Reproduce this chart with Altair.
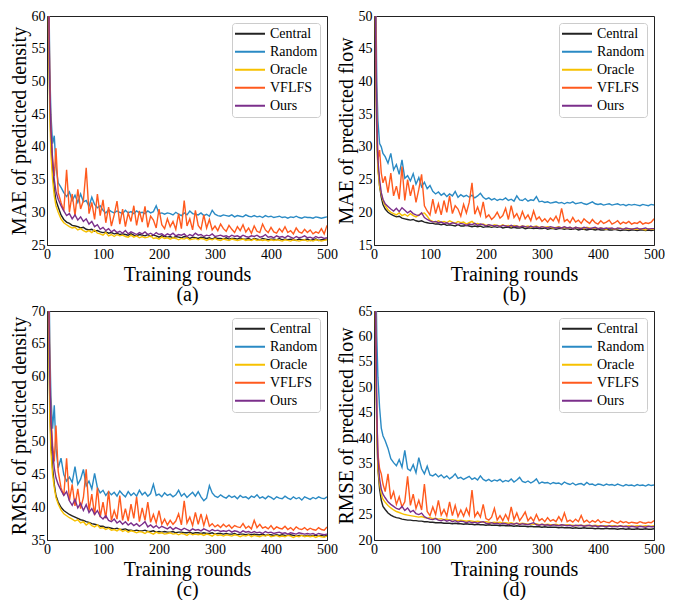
import altair as alt
import pandas as pd

ROUNDS = [1, 3, 5, 7, 10, 13, 16] + list(range(20, 501, 5))
SERIES = ["Central", "Random", "Oracle", "VFLFS", "Ours"]
COLORS = ["#222222", "#2a8ac4", "#f7c100", "#ff5a1e", "#7b2f8b"]
X_TICKS = [0, 100, 200, 300, 400, 500]

# ---------------- (a) MAE of predicted density ----------------
A_CENTRAL = [78, 58, 47, 41, 36.5, 33.5, 31.8,
    30.8, 29.6, 28.9, 28.5, 28.3, 28.0, 27.9, 27.8, 27.6, 27.7,
    27.4, 27.3, 27.4, 27.1, 27.2, 27.0, 26.9, 27.0, 26.8, 26.9,
    26.7, 26.8, 26.6, 26.7, 26.6, 26.5, 26.7, 26.5, 26.4, 26.6,
    26.5, 26.4, 26.6, 26.3, 26.5, 26.4, 26.2, 26.4, 26.3, 26.2,
    26.3, 26.1, 26.3, 26.2, 26.1, 26.3, 26.2, 26.0, 26.2, 26.1,
    26.0, 26.2, 26.1, 26.0, 26.1, 25.9, 26.1, 26.0, 26.0, 25.9,
    26.1, 25.9, 26.0, 26.0, 25.9, 26.1, 25.9, 25.9, 26.0, 25.8,
    26.0, 25.9, 25.8, 26.0, 25.9, 25.8, 25.9, 25.9, 25.8, 26.0,
    25.8, 25.9, 25.8, 25.9, 25.8, 25.7, 25.9, 25.8, 25.8, 25.9,
    25.7, 25.8, 25.9, 25.7, 25.8, 25.8, 25.9]
A_ORACLE = [76, 56, 45, 39, 35.0, 32.5, 31.0,
    30.0, 29.0, 28.4, 28.1, 27.8, 27.6, 27.7, 27.3, 27.5, 27.2,
    27.0, 27.2, 26.9, 27.3, 26.8, 26.7, 26.5, 26.9, 26.4, 26.6,
    26.3, 26.6, 26.4, 26.5, 26.3, 26.2, 26.5, 26.2, 26.4, 26.1,
    26.3, 26.1, 26.2, 26.4, 26.0, 26.1, 25.9, 26.2, 26.0, 26.1,
    25.9, 26.1, 26.0, 25.8, 26.0, 25.9, 26.1, 25.8, 25.9, 26.0,
    25.8, 26.0, 25.9, 25.7, 25.9, 25.8, 26.0, 25.8, 25.7, 25.9,
    25.8, 25.7, 25.9, 25.8, 25.7, 25.8, 25.9, 25.7, 25.8, 25.7,
    25.9, 25.7, 25.8, 25.7, 25.8, 25.6, 25.8, 25.7, 25.8, 25.7,
    25.6, 25.8, 25.7, 25.6, 25.8, 25.7, 25.6, 25.7, 25.8, 25.6,
    25.7, 25.6, 25.8, 25.7, 25.6, 25.7, 25.8]
A_OURS = [80, 62, 49, 42.5, 38, 35, 33.2,
    32.0, 31.0, 30.2, 29.5, 29.8, 29.0, 29.6, 28.8, 29.3, 28.6,
    29.0, 28.2, 28.6, 27.8, 28.1, 27.4, 27.7, 27.2, 27.5, 27.0,
    27.3, 26.9, 27.1, 26.8, 27.2, 26.7, 27.0, 26.8, 26.6, 26.9,
    26.7, 27.0, 26.6, 26.8, 26.5, 26.9, 26.6, 26.7, 26.4, 26.7,
    26.5, 26.8, 26.4, 26.6, 26.5, 26.7, 26.3, 26.6, 26.4, 26.8,
    26.5, 26.6, 26.3, 26.5, 26.4, 26.7, 26.3, 26.4, 26.5, 26.3,
    26.4, 26.2, 26.5, 26.3, 26.4, 26.2, 26.5, 26.3, 26.2, 26.4,
    26.3, 26.5, 26.2, 26.3, 26.6, 26.2, 26.3, 26.1, 26.4, 26.2,
    26.3, 26.1, 26.4, 26.2, 26.0, 26.3, 26.1, 26.2, 26.4, 26.1,
    26.2, 26.0, 26.3, 26.1, 26.2, 26.0, 26.1]
A_RANDOM = [85, 66, 52, 45, 40.5, 41.7, 37.0,
    34.5, 33.8, 33.0, 32.4, 33.1, 31.8, 32.6, 31.5, 32.8, 31.6,
    31.8, 30.9, 32.3, 31.2, 30.7, 31.0, 30.3, 29.9, 30.4, 30.1,
    29.9, 30.2, 30.0, 29.8, 30.3, 29.9, 30.1, 29.8, 30.2, 29.9,
    30.0, 29.8, 30.2, 29.9, 30.1, 31.0, 29.8, 29.9, 29.7, 29.9,
    29.8, 29.6, 30.0, 29.7, 29.5, 29.9, 29.6, 30.2, 29.8, 29.7,
    29.6, 29.9, 29.5, 29.7, 29.4, 30.3, 29.7, 29.5, 29.4, 29.6,
    29.5, 29.4, 29.6, 29.3, 29.5, 29.4, 29.3, 29.6, 29.4, 29.3,
    29.5, 29.3, 29.4, 29.2, 29.5, 29.3, 29.4, 29.2, 29.3, 29.4,
    29.2, 29.3, 29.1, 29.3, 29.2, 29.4, 29.2, 29.1, 29.3, 29.2,
    29.2, 29.1, 29.3, 29.2, 29.1, 29.2, 29.3]
A_VFLFS = [82, 64, 50, 43, 38.0, 35.5, 39.8,
    33.0, 31.5, 30.2, 36.5, 30.0, 32.8, 29.5, 33.5, 30.5, 31.8,
    36.8, 29.8, 31.5, 28.9, 32.8, 29.5, 31.9, 28.4, 30.8, 27.9,
    29.6, 31.7, 28.2, 30.5, 27.8, 29.9, 28.6, 31.0, 28.0, 30.2,
    28.5, 30.9, 27.7, 29.4, 28.8, 27.6, 30.5, 28.1, 27.5, 29.0,
    27.8, 28.6, 27.4, 29.8, 27.5, 31.8, 27.9, 29.0, 27.3, 30.3,
    28.0, 27.4, 29.6, 27.6, 28.9, 27.3, 27.9, 27.2, 28.2, 27.5,
    27.1, 28.0, 27.4, 26.9, 27.8, 27.2, 28.1, 27.0, 27.6, 26.8,
    27.9, 27.1, 26.9, 28.2, 27.3, 26.9, 27.7, 27.0, 26.8, 27.5,
    27.0, 27.8, 26.9, 27.2, 26.7, 27.6, 27.0, 26.8, 27.4, 26.9,
    27.3, 26.7, 27.0, 26.8, 27.5, 26.7, 28.0]

# ---------------- (b) MAE of predicted flow ----------------
B_CENTRAL = [70, 45, 32, 27, 24.0, 22.3, 21.2,
    20.5, 20.0, 19.7, 19.5, 19.3, 19.4, 19.1, 19.0, 18.9, 18.8,
    18.9, 18.7, 18.6, 18.7, 18.5, 18.4, 18.3, 18.3, 18.2, 18.2,
    18.1, 18.2, 18.0, 18.1, 18.0, 17.9, 18.1, 17.9, 17.9, 18.0,
    17.9, 17.8, 17.9, 17.8, 17.9, 17.7, 17.8, 17.8, 17.7, 17.8,
    17.7, 17.8, 17.6, 17.7, 17.7, 17.6, 17.7, 17.6, 17.6, 17.7,
    17.5, 17.6, 17.6, 17.5, 17.6, 17.5, 17.5, 17.6, 17.4, 17.5,
    17.5, 17.4, 17.5, 17.5, 17.4, 17.5, 17.4, 17.4, 17.5, 17.3,
    17.4, 17.4, 17.3, 17.4, 17.4, 17.3, 17.4, 17.3, 17.3, 17.4,
    17.3, 17.3, 17.4, 17.3, 17.2, 17.3, 17.3, 17.2, 17.3, 17.3,
    17.2, 17.3, 17.3, 17.2, 17.3, 17.2, 17.3]
B_ORACLE = [68, 43, 31, 26.5, 24.0, 22.8, 21.8,
    21.0, 20.4, 20.0, 19.8, 19.6, 19.9, 19.5, 19.7, 19.4, 19.8,
    19.5, 19.3, 19.6, 19.8, 19.9, 19.4, 18.8, 18.6, 18.5, 18.7,
    18.5, 18.6, 18.4, 18.7, 18.5, 18.3, 18.6, 18.4, 18.5, 18.2,
    18.4, 18.6, 18.2, 18.3, 18.1, 18.2, 18.0, 18.1, 17.9, 18.1,
    18.0, 17.9, 18.1, 17.9, 18.0, 17.8, 18.0, 17.9, 17.8, 17.9,
    17.8, 17.9, 17.7, 17.8, 17.9, 17.7, 17.8, 17.7, 17.8, 17.7,
    17.6, 17.7, 17.8, 17.6, 17.7, 17.6, 17.7, 17.5, 17.7, 17.6,
    17.6, 17.5, 17.7, 17.6, 17.5, 17.6, 17.5, 17.6, 17.5, 17.4,
    17.6, 17.5, 17.4, 17.5, 17.6, 17.4, 17.5, 17.4, 17.5, 17.4,
    17.4, 17.5, 17.4, 17.3, 17.5, 17.4, 17.4]
B_OURS = [72, 47, 33, 28, 25.0, 23.0, 22.0,
    21.3, 20.9, 20.5, 20.2, 20.6, 20.1, 20.7, 20.3, 19.9, 20.2,
    19.8, 19.6, 19.5, 19.9, 19.2, 18.9, 18.7, 18.5, 18.6, 18.4,
    18.5, 18.3, 18.4, 18.2, 18.4, 18.3, 18.1, 18.3, 18.2, 18.0,
    18.2, 18.1, 18.3, 18.0, 18.2, 18.1, 17.9, 18.1, 18.0, 17.9,
    18.0, 17.8, 18.0, 17.9, 17.8, 18.0, 17.8, 17.9, 17.7, 17.9,
    17.8, 17.7, 17.9, 17.7, 17.8, 17.6, 17.8, 17.7, 17.6, 17.8,
    17.7, 17.6, 17.7, 17.6, 17.8, 17.6, 17.7, 17.5, 17.7, 17.6,
    17.5, 17.7, 17.6, 17.5, 17.6, 17.7, 17.5, 17.6, 17.5, 17.6,
    17.5, 17.6, 17.4, 17.6, 17.5, 17.4, 17.6, 17.5, 17.4, 17.5,
    17.6, 17.4, 17.5, 17.6, 17.4, 17.5, 17.5]
B_RANDOM = [90, 55, 40, 34, 30.5, 30.0, 29.0,
    28.5, 27.5, 29.0, 26.5, 27.3, 25.8, 28.0, 25.2, 25.6, 24.8,
    25.9, 24.3, 25.3, 23.9, 24.6, 23.6, 24.1, 23.2, 22.8, 23.1,
    22.6, 22.9, 22.4, 22.8, 22.5, 23.2, 22.3, 22.7, 22.4, 22.6,
    22.3, 22.6, 22.2, 22.5, 22.9, 22.3, 22.0, 22.2, 21.9, 22.1,
    21.8, 22.0, 21.9, 22.2, 21.8, 22.0, 21.7, 22.5, 21.9, 21.8,
    22.1, 21.7, 21.9, 21.8, 22.4, 21.6, 21.7, 21.5, 21.6, 21.4,
    21.5, 21.6, 21.4, 21.5, 21.3, 21.5, 21.4, 21.6, 21.3, 21.4,
    21.5, 21.3, 21.2, 21.4, 21.6, 21.3, 21.2, 21.3, 21.1, 21.2,
    21.3, 21.1, 21.2, 21.3, 21.1, 21.2, 21.0, 21.2, 21.1, 21.2,
    21.1, 21.0, 21.2, 21.1, 21.0, 21.2, 21.1]
B_VFLFS = [75, 50, 35, 28, 29.5, 26.0, 24.5,
    25.5, 23.0, 26.0, 22.5, 24.0, 22.0, 27.0, 21.8, 25.0, 22.5,
    24.2, 21.5, 23.5, 25.8, 21.0, 20.2, 19.6, 22.0, 19.8, 21.3,
    19.6, 21.8, 20.0, 22.5, 19.8, 21.0, 20.5, 19.4, 21.2, 19.9,
    21.5, 24.5, 19.7, 20.8, 19.5, 21.6, 19.2, 19.6, 18.9, 19.3,
    20.0, 19.1, 19.5, 20.6, 18.9, 21.0, 19.2, 19.8, 18.8, 20.1,
    19.0, 19.6, 18.7, 20.2, 18.9, 19.3, 18.6, 19.0, 18.5, 19.1,
    18.7, 19.4, 18.5, 20.6, 18.6, 18.9, 18.4, 19.2, 18.5, 18.8,
    18.3, 19.0, 18.6, 18.3, 18.9, 18.4, 18.2, 18.7, 18.3, 18.5,
    18.8, 18.2, 18.4, 18.7, 18.2, 18.5, 18.3, 18.6, 18.2, 18.4,
    18.3, 18.6, 18.2, 18.4, 18.3, 18.5, 19.0]

# ---------------- (c) RMSE of predicted density ----------------
C_CENTRAL = [95, 68, 56, 50, 46.0, 43.5, 41.8,
    40.8, 40.0, 39.5, 39.2, 38.9, 38.7, 38.5, 38.3, 38.1, 38.0,
    37.8, 37.7, 37.5, 37.4, 37.3, 37.1, 37.1, 36.9, 36.9, 36.8,
    36.7, 36.8, 36.6, 36.6, 36.7, 36.5, 36.5, 36.4, 36.5, 36.4,
    36.4, 36.5, 36.3, 36.3, 36.4, 36.2, 36.3, 36.2, 36.3, 36.2,
    36.2, 36.3, 36.1, 36.2, 36.2, 36.1, 36.1, 36.2, 36.0, 36.1,
    36.1, 36.0, 36.1, 36.0, 36.0, 36.1, 35.9, 36.0, 36.0, 35.9,
    36.0, 35.9, 35.9, 36.0, 35.8, 35.9, 35.9, 35.8, 35.9, 35.8,
    35.9, 35.8, 35.8, 35.9, 35.7, 35.8, 35.8, 35.7, 35.8, 35.7,
    35.8, 35.7, 35.7, 35.8, 35.7, 35.6, 35.7, 35.7, 35.6, 35.7,
    35.6, 35.7, 35.7, 35.6, 35.7, 35.6, 35.7]
C_ORACLE = [92, 66, 54, 48.5, 45.0, 43.0, 41.5,
    40.5, 39.6, 39.0, 38.7, 38.4, 38.2, 37.9, 38.1, 37.6, 37.8,
    37.3, 37.6, 37.2, 37.0, 37.3, 36.8, 36.9, 36.6, 36.8, 36.5,
    36.6, 36.4, 36.7, 36.3, 36.5, 36.2, 36.4, 36.3, 36.1, 36.3,
    36.2, 36.0, 36.3, 36.1, 35.9, 36.2, 36.0, 36.1, 35.9, 36.0,
    36.1, 35.9, 36.0, 35.8, 36.0, 35.9, 35.7, 36.0, 35.8, 35.9,
    35.8, 35.9, 35.7, 35.9, 35.8, 35.6, 35.9, 35.7, 35.8, 35.6,
    35.8, 35.7, 35.6, 35.8, 35.7, 35.5, 35.7, 35.6, 35.8, 35.5,
    35.7, 35.6, 35.5, 35.7, 35.6, 35.8, 35.5, 35.6, 35.7, 35.5,
    35.6, 35.5, 35.7, 35.6, 35.4, 35.6, 35.5, 35.7, 35.5, 35.6,
    35.5, 35.6, 35.4, 35.6, 35.5, 35.4, 35.6]
C_OURS = [100, 72, 60, 53, 48.5, 46.0, 44.5,
    43.5, 42.6, 41.8, 42.4, 41.0, 40.3, 41.2, 39.9, 40.6, 39.5,
    40.4, 39.2, 39.8, 38.9, 39.5, 38.6, 38.2, 38.7, 38.0, 37.8,
    38.2, 37.6, 37.9, 37.4, 37.8, 37.3, 37.6, 37.2, 37.5, 37.1,
    37.4, 37.8, 37.0, 37.3, 36.9, 37.2, 36.8, 37.1, 36.9, 36.7,
    37.0, 36.6, 36.9, 36.7, 36.5, 36.8, 36.6, 36.4, 36.7, 36.5,
    36.6, 36.4, 36.7, 36.5, 36.3, 36.6, 36.4, 36.5, 36.3, 36.4,
    36.3, 36.5, 36.2, 36.4, 36.3, 36.1, 36.4, 36.2, 36.3, 36.1,
    36.3, 36.1, 36.2, 36.0, 36.3, 36.1, 36.2, 36.0, 36.1, 36.2,
    36.0, 36.1, 35.9, 36.1, 36.0, 35.9, 36.1, 36.0, 35.9, 36.0,
    35.9, 36.0, 35.8, 36.0, 35.9, 35.8, 35.9]
C_RANDOM = [110, 80, 65, 57, 52.0, 55.6, 49.0,
    46.0, 47.5, 45.0, 44.0, 44.6, 43.8, 46.2, 43.5, 44.3, 45.8,
    43.3, 44.0, 42.8, 45.2, 43.0, 42.2, 42.6, 41.8, 42.4, 41.9,
    42.3, 41.7, 42.5, 42.0, 41.6, 42.4, 41.8, 42.2, 41.7, 42.6,
    41.9, 42.3, 41.7, 42.1, 43.5, 41.8, 42.0, 41.6, 42.2, 41.8,
    42.0, 41.6, 41.9, 42.6, 41.7, 42.1, 41.5, 41.9, 42.3, 41.7,
    42.4, 41.6, 41.0, 41.4, 43.3, 42.2, 41.7, 41.5, 41.9, 41.6,
    41.4, 41.8, 41.5, 41.7, 41.3, 41.8, 41.5, 41.6, 41.3, 41.7,
    41.5, 41.9, 41.4, 41.6, 41.3, 41.7, 41.5, 41.2, 41.6, 41.4,
    41.3, 41.7, 41.4, 41.2, 41.6, 41.3, 41.5, 41.1, 41.6, 41.4,
    41.2, 41.5, 41.3, 41.6, 41.4, 41.3, 41.6]
C_VFLFS = [105, 76, 62, 54, 49.5, 47.0, 52.5,
    45.5, 43.0, 41.8, 47.5, 41.0, 43.5, 40.2, 42.8, 39.8, 41.5,
    45.8, 39.5, 42.0, 38.8, 43.0, 38.5, 40.8, 38.3, 42.5, 38.0,
    39.5, 38.2, 41.8, 38.0, 39.8, 37.9, 40.5, 38.3, 41.6, 37.8,
    39.9, 38.0, 40.8, 37.7, 38.9, 37.6, 39.5, 37.4, 38.2, 37.3,
    38.0, 37.4, 37.9, 39.0, 37.3, 41.0, 37.6, 38.5, 37.2, 39.2,
    37.4, 39.0, 37.2, 38.7, 37.1, 37.5, 37.0, 37.3, 36.9, 37.4,
    37.0, 37.3, 36.8, 37.2, 37.0, 36.9, 37.5, 36.8, 37.1, 36.7,
    38.0, 36.9, 37.4, 36.8, 37.0, 36.7, 37.2, 36.6, 37.0, 36.8,
    36.7, 37.1, 36.6, 36.9, 36.5, 37.0, 36.7, 36.6, 36.9, 36.5,
    36.8, 36.6, 36.5, 36.9, 36.6, 36.5, 37.0]

# ---------------- (d) RMSE of predicted flow ----------------
D_CENTRAL = [90, 60, 42, 34, 30.0, 27.8, 26.6,
    26.0, 25.3, 24.9, 24.6, 24.4, 24.3, 24.1, 24.0, 23.9, 23.9,
    23.8, 23.8, 23.7, 23.7, 23.6, 23.6, 23.5, 23.5, 23.4, 23.4,
    23.4, 23.3, 23.3, 23.3, 23.2, 23.3, 23.2, 23.2, 23.1, 23.2,
    23.1, 23.1, 23.0, 23.1, 23.0, 23.0, 22.9, 23.0, 22.9, 22.9,
    22.9, 22.8, 22.9, 22.8, 22.8, 22.8, 22.7, 22.8, 22.7, 22.7,
    22.7, 22.6, 22.7, 22.6, 22.6, 22.6, 22.5, 22.6, 22.5, 22.5,
    22.5, 22.5, 22.4, 22.5, 22.4, 22.4, 22.4, 22.3, 22.4, 22.3,
    22.3, 22.4, 22.3, 22.3, 22.3, 22.2, 22.3, 22.2, 22.2, 22.3,
    22.2, 22.2, 22.2, 22.1, 22.2, 22.2, 22.1, 22.2, 22.1, 22.1,
    22.2, 22.1, 22.1, 22.2, 22.1, 22.1, 22.2]
D_ORACLE = [88, 58, 41, 34, 31.0, 29.0, 28.0,
    27.4, 26.8, 26.3, 25.9, 25.6, 25.4, 25.2, 25.0, 24.9, 24.8,
    24.7, 24.6, 24.5, 24.6, 24.4, 24.3, 24.4, 24.2, 24.3, 24.1,
    24.2, 24.0, 24.1, 23.9, 24.0, 23.9, 23.8, 23.9, 23.8, 23.7,
    23.8, 23.7, 23.6, 23.7, 23.6, 23.5, 23.6, 23.5, 23.4, 23.5,
    23.4, 23.5, 23.3, 23.4, 23.3, 23.4, 23.2, 23.3, 23.2, 23.3,
    23.2, 23.1, 23.2, 23.1, 23.2, 23.0, 23.1, 23.0, 23.1, 23.0,
    23.0, 23.1, 22.9, 23.0, 22.9, 23.0, 22.9, 22.9, 22.8, 22.9,
    22.9, 22.8, 22.9, 22.8, 22.8, 22.9, 22.8, 22.7, 22.8, 22.8,
    22.7, 22.8, 22.8, 22.7, 22.8, 22.7, 22.7, 22.8, 22.7, 22.7,
    22.8, 22.7, 22.7, 22.8, 22.7, 22.7, 22.8]
D_OURS = [95, 64, 45, 36, 32.0, 30.0, 29.0,
    28.3, 27.5, 27.0, 26.6, 26.2, 26.0, 26.6, 25.8, 26.3, 25.5,
    25.8, 25.2, 25.0, 25.3, 24.6, 24.3, 24.1, 24.0, 24.2, 23.9,
    23.8, 24.0, 23.7, 23.9, 23.6, 23.8, 23.5, 23.7, 23.6, 23.4,
    23.6, 23.4, 23.5, 23.3, 23.5, 23.6, 23.3, 23.2, 23.4, 23.2,
    23.3, 23.1, 23.3, 23.2, 23.0, 23.2, 23.1, 23.3, 23.0, 23.2,
    23.1, 23.0, 23.2, 23.4, 23.0, 22.9, 23.1, 22.9, 23.0, 22.8,
    23.0, 22.9, 22.8, 23.0, 22.9, 22.8, 22.9, 22.7, 22.9, 22.8,
    22.9, 22.7, 22.8, 22.9, 22.7, 22.8, 22.6, 22.8, 22.7, 22.6,
    22.8, 22.6, 22.7, 22.6, 22.8, 22.6, 22.7, 22.5, 22.7, 22.6,
    22.5, 22.7, 22.6, 22.5, 22.7, 22.6, 22.6]
D_RANDOM = [100, 75, 60, 52, 46.0, 42.0, 40.5,
    39.5, 38.0, 36.0, 35.2, 34.6, 35.8, 34.3, 37.6, 34.0, 33.6,
    34.8, 33.2, 36.2, 34.0, 33.0, 34.5, 32.8, 32.6, 33.0, 32.4,
    32.8, 32.2, 32.6, 32.0, 32.4, 33.0, 32.1, 32.3, 31.9, 32.2,
    32.5, 31.9, 32.2, 31.8, 32.6, 31.9, 31.6, 31.9, 31.5, 31.8,
    31.6, 31.9, 31.4, 31.7, 31.5, 32.0, 31.4, 31.8, 32.3, 31.5,
    31.3, 31.6, 31.2, 31.5, 32.0, 31.1, 31.4, 31.2, 31.3, 31.0,
    31.3, 31.1, 31.2, 30.9, 31.4, 31.1, 30.9, 31.2, 30.8, 31.0,
    31.1, 30.8, 31.3, 30.9, 31.0, 30.7, 31.0, 30.9, 30.7, 31.0,
    30.8, 30.9, 30.7, 31.0, 30.8, 30.6, 30.9, 30.7, 30.8, 30.6,
    30.9, 30.7, 30.8, 30.6, 30.9, 30.7, 30.8]
D_VFLFS = [92, 62, 45, 37, 34.0, 33.0, 31.0,
    29.5, 33.0, 28.0, 29.5, 27.0, 28.5, 26.5, 27.5, 32.5, 26.8,
    29.0, 26.2, 27.8, 25.9, 31.0, 25.6, 24.8, 26.5, 25.0, 27.8,
    24.9, 26.0, 24.7, 27.5, 24.8, 26.8, 24.6, 25.9, 24.7, 26.2,
    24.9, 29.8, 24.6, 25.5, 24.5, 27.0, 24.2, 23.9, 24.5, 26.2,
    23.9, 24.8, 23.8, 25.0, 23.9, 26.5, 24.0, 25.3, 23.8, 24.6,
    25.5, 23.8, 24.5, 23.7, 25.0, 23.8, 24.2, 23.6, 24.4, 23.7,
    24.0, 23.6, 24.6, 23.7, 25.3, 23.6, 23.9, 23.5, 24.1, 23.6,
    24.8, 23.5, 23.9, 23.4, 23.8, 23.5, 24.0, 23.4, 23.7, 23.5,
    23.4, 23.8, 23.5, 23.3, 23.7, 23.4, 23.6, 23.3, 23.5, 23.4,
    23.3, 23.6, 23.4, 23.3, 23.5, 23.4, 23.8]

PANELS = [
    ({"Central": A_CENTRAL, "Random": A_RANDOM, "Oracle": A_ORACLE, "VFLFS": A_VFLFS, "Ours": A_OURS},
     "MAE of predicted density", [25, 60], [25, 30, 35, 40, 45, 50, 55, 60], "(a)"),
    ({"Central": B_CENTRAL, "Random": B_RANDOM, "Oracle": B_ORACLE, "VFLFS": B_VFLFS, "Ours": B_OURS},
     "MAE of predicted flow", [15, 50], [15, 20, 25, 30, 35, 40, 45, 50], "(b)"),
    ({"Central": C_CENTRAL, "Random": C_RANDOM, "Oracle": C_ORACLE, "VFLFS": C_VFLFS, "Ours": C_OURS},
     "RMSE of predicted density", [35, 70], [35, 40, 45, 50, 55, 60, 65, 70], "(c)"),
    ({"Central": D_CENTRAL, "Random": D_RANDOM, "Oracle": D_ORACLE, "VFLFS": D_VFLFS, "Ours": D_OURS},
     "RMSE of predicted flow", [20, 65], [20, 25, 30, 35, 40, 45, 50, 55, 60, 65], "(d)"),
]

FONT = "Liberation Serif"
PW, PH = 280, 229


def make_panel(data, ytitle, ydom, yticks, caption):
    rows = []
    for s in SERIES:
        vals = data[s]
        if len(vals) != len(ROUNDS):
            raise ValueError(f"{caption} {s}: {len(vals)} values vs {len(ROUNDS)} rounds")
        for r, v in zip(ROUNDS, vals):
            rows.append({"round": r, "value": v, "series": s})
    df = pd.DataFrame(rows)
    base = alt.Chart(df)
    layers = []
    for s in SERIES:
        layers.append(
            base.transform_filter(alt.datum.series == s)
            .mark_line(clip=True, strokeWidth=1.4)
            .encode(
                x=alt.X("round:Q",
                        scale=alt.Scale(domain=[0, 500], nice=False),
                        axis=alt.Axis(values=X_TICKS, title=["Training rounds", caption],
                                      labelFlush=False, titleLineHeight=20, titlePadding=3)),
                y=alt.Y("value:Q",
                        scale=alt.Scale(domain=ydom, nice=False, zero=False),
                        axis=alt.Axis(values=yticks, title=ytitle, titlePadding=2)),
                color=alt.Color("series:N",
                                scale=alt.Scale(domain=SERIES, range=COLORS),
                                legend=alt.Legend(title=None, orient="top-right", offset=7,
                                                  strokeColor="#cccccc", fillColor="white",
                                                  padding=2, cornerRadius=3,
                                                  symbolType="stroke", symbolSize=900,
                                                  symbolStrokeWidth=2, labelFont=FONT,
                                                  labelFontSize=14, labelColor="black",
                                                  clipHeight=17.5, rowPadding=0, labelOffset=4)),
            )
        )
    return alt.layer(*layers).properties(width=PW, height=PH)


charts = [make_panel(*p) for p in PANELS]

chart = (
    alt.concat(*charts, columns=2, spacing={"row": 66, "column": 47}, bounds="flush")
    .resolve_scale(color="independent")
    .resolve_legend(color="independent")
    .properties(padding=0)
    .configure(padding=0)
    .configure_view(stroke="#222222", strokeWidth=1)
    .configure_axis(
        labelFont=FONT, labelFontSize=14, labelColor="black", labelPadding=2,
        titleFont=FONT, titleFontSize=20, titleFontWeight="normal", titleColor="black",
        ticks=False, tickSize=0, grid=False, domainColor="#222222",
    )
)

chart.save("out.html", embed_options={"renderer": "svg", "actions": False})
